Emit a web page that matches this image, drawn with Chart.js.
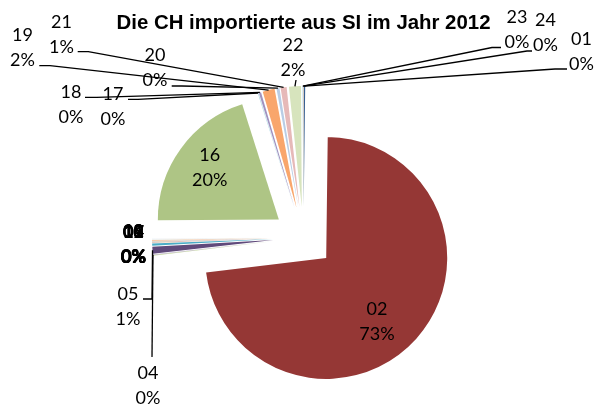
<!DOCTYPE html>
<html>
<head>
<meta charset="utf-8">
<script src="https://cdn.jsdelivr.net/npm/chart.js@4.4.1/dist/chart.umd.min.js"></script>
<style>
  html, body { margin: 0; padding: 0; background: #fff; }
  #wrap { width: 597px; height: 405px; }
</style>
</head>
<body>
<div id="wrap"><canvas id="importChart"></canvas></div>
<script>
// Kategorien und Anteile (aus dem Bild geschätzt)
const categories = ['01', '02', '03', '04', '05', '06', '07', '08', '09', '10', '11', '12',
  '13', '14', '15', '16', '17', '18', '19', '20', '21', '22', '23', '24'];
const shares = [0.2, 72.9, 0.1, 0.05, 0.9, 0.3, 0.05, 0.05, 0.05, 0.05, 0.05, 0.1,
  0.05, 0.05, 0.05, 20.2, 0.1, 0.3, 1.6, 0.4, 0.8, 1.6, 0.05, 0.05];
const sliceColors = ['#376092', '#953735', '#C3D69B', '#B3A2C7', '#604A7B', '#4BACC6',
  '#F79646', '#95B3D7', '#D99694', '#D7E4BD', '#CCC1DA', '#FAC090',
  '#DBEEF4', '#FDE9D9', '#DCE6F2', '#AEC585', '#B7DEE8', '#A093C0',
  '#F9A66C', '#B9CDE5', '#E6B9B8', '#D7E4BD', '#93CDDD', '#FAC090'];

// Lage der Beschriftungen (obere Zeile, Mitte) wie im Excel-Diagramm
// die Beschriftungen 03, 06-15 liegen fast uebereinander
const labelAt = [
  [581.5, 39], [377, 309.5], [133.5, 232], [148, 373], [128, 294.5],
  [133, 232], [134, 232], [133.5, 231.5], [133.5, 232.5], [133, 232.5],
  [134, 231.5], [133.5, 232], [133, 231.5], [134, 232.5], [133.5, 232],
  [209.7, 155.5], [113, 94.5], [71, 92], [22.5, 35.5], [155, 55],
  [61.5, 22.5], [293, 45], [517, 17], [545.5, 20.5]
];
// Führungslinien: Startpunkt, Knick -> danach bis zum Segmentrand
const leaderStub = [
  [[567, 69], [555, 69]], null, null, [[152, 357], [152, 357]], [[143, 299], [152, 299]],
  null, null, null, null, null, null, null, null, null, null,
  null,
  [[128, 99.3], [138, 99.3]],
  [[85, 97.3], [96.7, 97.3]],
  [[39.3, 65.7], [50, 65.7]],
  [[171.7, 86], [181.7, 86]],
  [[77.7, 51.7], [88.3, 51.7]],
  [[296, 80], [296, 80]],
  [[501, 47.5], [492, 47.5]],
  [[532, 51], [527, 51]]
];

const EXPLODE = 30.5;

// jedes Segment nach aussen schieben (wie "explodiert" in Excel)
const explode = {
  id: 'explode',
  beforeDatasetDraw(chart, args) {
    const ctx = chart.ctx;
    args.meta.data.forEach(arc => {
      const mid = (arc.startAngle + arc.endAngle) / 2;
      ctx.save();
      ctx.translate(Math.cos(mid) * EXPLODE, Math.sin(mid) * EXPLODE);
      arc.draw(ctx);
      ctx.restore();
    });
    return false;
  }
};

const sliceLabels = {
  id: 'sliceLabels',
  afterDatasetsDraw(chart) {
    const ctx = chart.ctx;
    const arcs = chart.getDatasetMeta(0).data;
    const total = shares.reduce((a, b) => a + b, 0);
    ctx.save();
    ctx.strokeStyle = '#000';
    ctx.lineWidth = 1.3;
    arcs.forEach((arc, i) => {
      const stub = leaderStub[i];
      if (!stub) return;
      const mid = (arc.startAngle + arc.endAngle) / 2;
      const r = arc.outerRadius + EXPLODE;
      ctx.beginPath();
      ctx.moveTo(stub[0][0], stub[0][1]);
      ctx.lineTo(stub[1][0], stub[1][1]);
      ctx.lineTo(arc.x + Math.cos(mid) * r, arc.y + Math.sin(mid) * r);
      ctx.stroke();
    });
    ctx.font = '18px Lato';
    ctx.fillStyle = '#000';
    ctx.textAlign = 'center';
    ctx.textBaseline = 'middle';
    categories.forEach((cat, i) => {
      const [x, y] = labelAt[i];
      const pct = Math.round(shares[i] / total * 100) + '%';
      ctx.fillText(cat, x, y);
      ctx.fillText(pct, x, y + 24.7);
    });
    ctx.restore();
  }
};

const config = {
  type: 'pie',
  data: {
    labels: categories,
    datasets: [{
      data: shares,
      backgroundColor: sliceColors,
      borderWidth: 0
    }]
  },
  options: {
    responsive: true,
    maintainAspectRatio: false,
    animation: false,
    radius: 121,
    layout: { padding: { left: 10, right: 0, top: 0, bottom: 0 } },
    plugins: {
      legend: { display: false },
      tooltip: { enabled: false },
      title: {
        display: true,
        text: 'Die CH importierte aus SI im Jahr 2012',
        color: '#000',
        font: { family: '"Liberation Sans", Arial, sans-serif', size: 20.4, weight: 'bold' },
        padding: { top: 11, bottom: 34.6 }
      }
    }
  },
  plugins: [explode, sliceLabels]
};

const importChart = new Chart(document.getElementById('importChart'), config);
</script>
</body>
</html>
